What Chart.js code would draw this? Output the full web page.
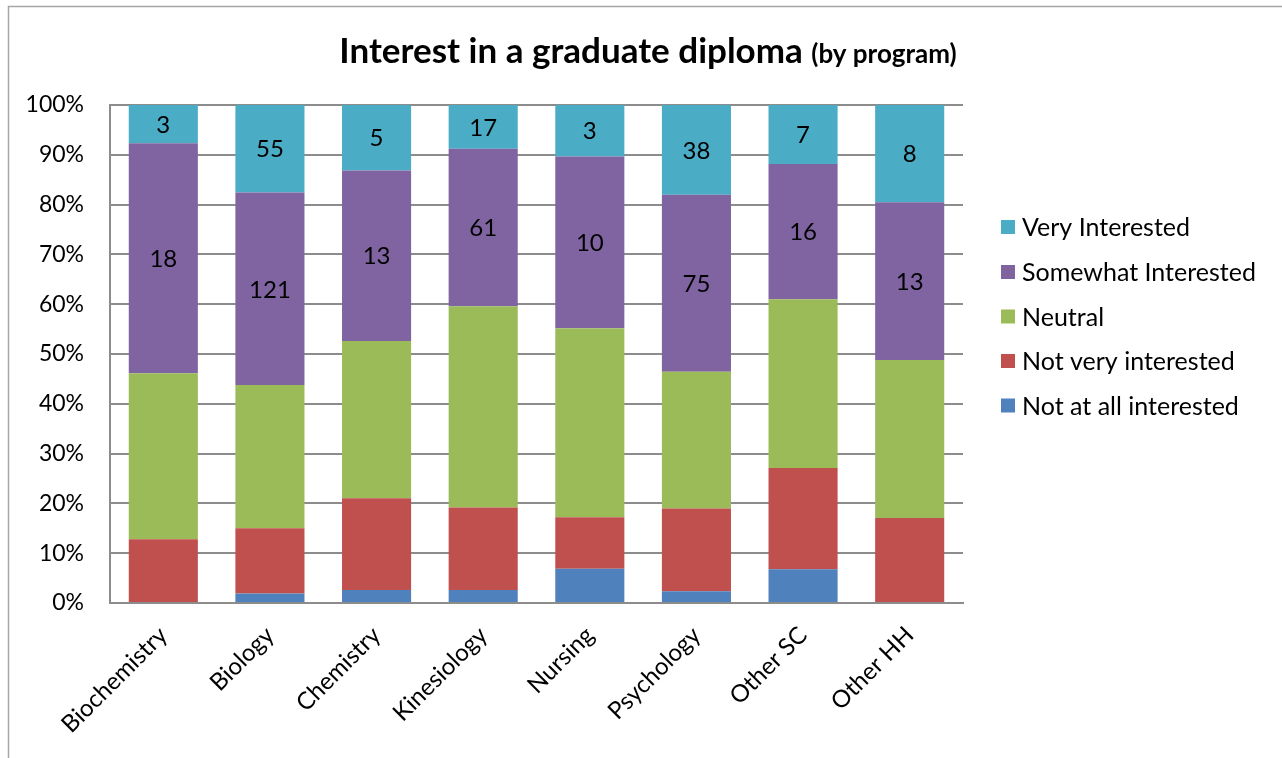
<!DOCTYPE html>
<html>
<head>
<meta charset="utf-8">
<script src="https://cdn.jsdelivr.net/npm/chart.js@4/dist/chart.umd.min.js"></script>
<style>
  html, body { margin: 0; padding: 0; background: #ffffff; }
  #wrap { width: 1282px; height: 758px; position: relative; }
</style>
</head>
<body>
<div id="wrap"><canvas id="c" width="1282" height="758"></canvas></div>
<script>
const categories = ['Biochemistry', 'Biology', 'Chemistry', 'Kinesiology', 'Nursing', 'Psychology', 'Other SC', 'Other HH'];
const notAtAll = [0, 6, 1, 5, 2, 5, 4, 0];
const notVery = [5, 41, 7, 32, 3, 35, 12, 7];
const neutral = [13, 90, 12, 78, 11, 58, 20, 13];
const somewhat = [18, 121, 13, 61, 10, 75, 16, 13];
const veryInt = [3, 55, 5, 17, 3, 38, 7, 8];
const yTicks = [0, 10, 20, 30, 40, 50, 60, 70, 80, 90, 100];

const seriesNames = ['Not at all interested', 'Not very interested', 'Neutral', 'Somewhat Interested', 'Very Interested'];
const seriesCounts = [notAtAll, notVery, neutral, somewhat, veryInt];
const seriesColors = ['#4F81BD', '#C0504D', '#9BBB59', '#8064A2', '#4BACC6'];
const labelled = [false, false, false, true, true];

const totals = categories.map((_, i) => seriesCounts.reduce((s, arr) => s + arr[i], 0));
const datasets = seriesNames.map((name, k) => ({
  label: name,
  data: seriesCounts[k].map((v, i) => v / totals[i] * 100),
  counts: seriesCounts[k],
  showCount: labelled[k],
  backgroundColor: seriesColors[k],
  borderWidth: 0,
  barPercentage: 0.648,
  categoryPercentage: 1.0
}));

const FONT = 'Lato, "Open Sans", sans-serif';

const framePlugin = {
  id: 'frame',
  beforeDraw(chart) {
    const ctx = chart.ctx;
    ctx.save();
    ctx.fillStyle = '#ffffff';
    ctx.fillRect(0, 0, chart.width, chart.height);
    ctx.strokeStyle = '#a6a6a6';
    ctx.lineWidth = 1.5;
    ctx.beginPath();
    ctx.moveTo(8.5, chart.height);
    ctx.lineTo(8.5, 6.5);
    ctx.lineTo(chart.width, 6.5);
    ctx.stroke();
    ctx.restore();
  }
};

const titlePlugin = {
  id: 'splitTitle',
  afterDraw(chart) {
    const ctx = chart.ctx;
    ctx.save();
    const f1 = 'bold 35px ' + FONT;
    const f2 = 'bold 26px ' + FONT;
    const t1 = 'Interest in a graduate diploma ';
    const t2 = '(by program)';
    ctx.font = f1; const w1 = ctx.measureText(t1).width;
    ctx.font = f2; const w2 = ctx.measureText(t2).width;
    const cx = 648;
    const x0 = cx - (w1 + w2) / 2;
    ctx.fillStyle = '#000000';
    ctx.textBaseline = 'alphabetic';
    ctx.textAlign = 'left';
    ctx.font = f1; ctx.fillText(t1, x0, 63);
    ctx.font = f2; ctx.fillText(t2, x0 + w1, 63);
    ctx.restore();
  }
};

const legendPlugin = {
  id: 'sideLegend',
  afterDraw(chart) {
    const ctx = chart.ctx;
    ctx.save();
    ctx.font = '25px ' + FONT;
    ctx.textBaseline = 'middle';
    ctx.textAlign = 'left';
    const ys = [227, 272, 316.5, 361, 405.5];
    const order = [4, 3, 2, 1, 0];
    order.forEach((k, j) => {
      const ds = chart.data.datasets[k];
      ctx.fillStyle = ds.backgroundColor;
      ctx.fillRect(1001, ys[j] - 7, 14, 14);
      ctx.fillStyle = '#000000';
      ctx.fillText(ds.label, 1022, ys[j] + 1);
    });
    ctx.restore();
  }
};

const countLabels = {
  id: 'countLabels',
  afterDatasetsDraw(chart) {
    const ctx = chart.ctx;
    ctx.save();
    ctx.font = '24px ' + FONT;
    ctx.fillStyle = '#000000';
    ctx.textAlign = 'center';
    ctx.textBaseline = 'middle';
    chart.data.datasets.forEach((ds, k) => {
      if (!ds.showCount) return;
      const meta = chart.getDatasetMeta(k);
      meta.data.forEach((bar, i) => {
        const p = bar.getProps(['x', 'y', 'base'], true);
        ctx.fillText(String(ds.counts[i]), p.x, (p.y + p.base) / 2 + 1);
      });
    });
    ctx.restore();
  }
};

new Chart(document.getElementById('c'), {
  type: 'bar',
  data: { labels: categories, datasets: datasets },
  options: {
    responsive: false,
    animation: false,
    devicePixelRatio: 1,
    layout: { padding: { top: 105, right: 319, left: 0, bottom: 0 } },
    plugins: {
      legend: { display: false },
      title: { display: false },
      tooltip: { enabled: false }
    },
    scales: {
      x: {
        stacked: true,
        grid: { display: false, drawTicks: false },
        border: { display: true, color: '#8c8c8c', width: 2 },
        ticks: {
          color: '#000000',
          font: { family: FONT, size: 24 },
          maxRotation: 45,
          minRotation: 45,
          padding: 18,
          autoSkip: false
        },
        afterFit(scale) { scale.height = 155; }
      },
      y: {
        stacked: true,
        min: 0,
        max: 100,
        afterBuildTicks(scale) { scale.ticks = yTicks.map(v => ({ value: v })); },
        grid: { color: '#8c8c8c', lineWidth: 2, drawTicks: false },
        border: { display: true, color: '#8c8c8c', width: 2 },
        ticks: {
          color: '#000000',
          font: { family: FONT, size: 23 },
          padding: 26,
          callback: v => v + '%'
        },
        afterFit(scale) { scale.width = 110; }
      }
    }
  },
  plugins: [framePlugin, titlePlugin, legendPlugin, countLabels]
});
</script>
</body>
</html>
